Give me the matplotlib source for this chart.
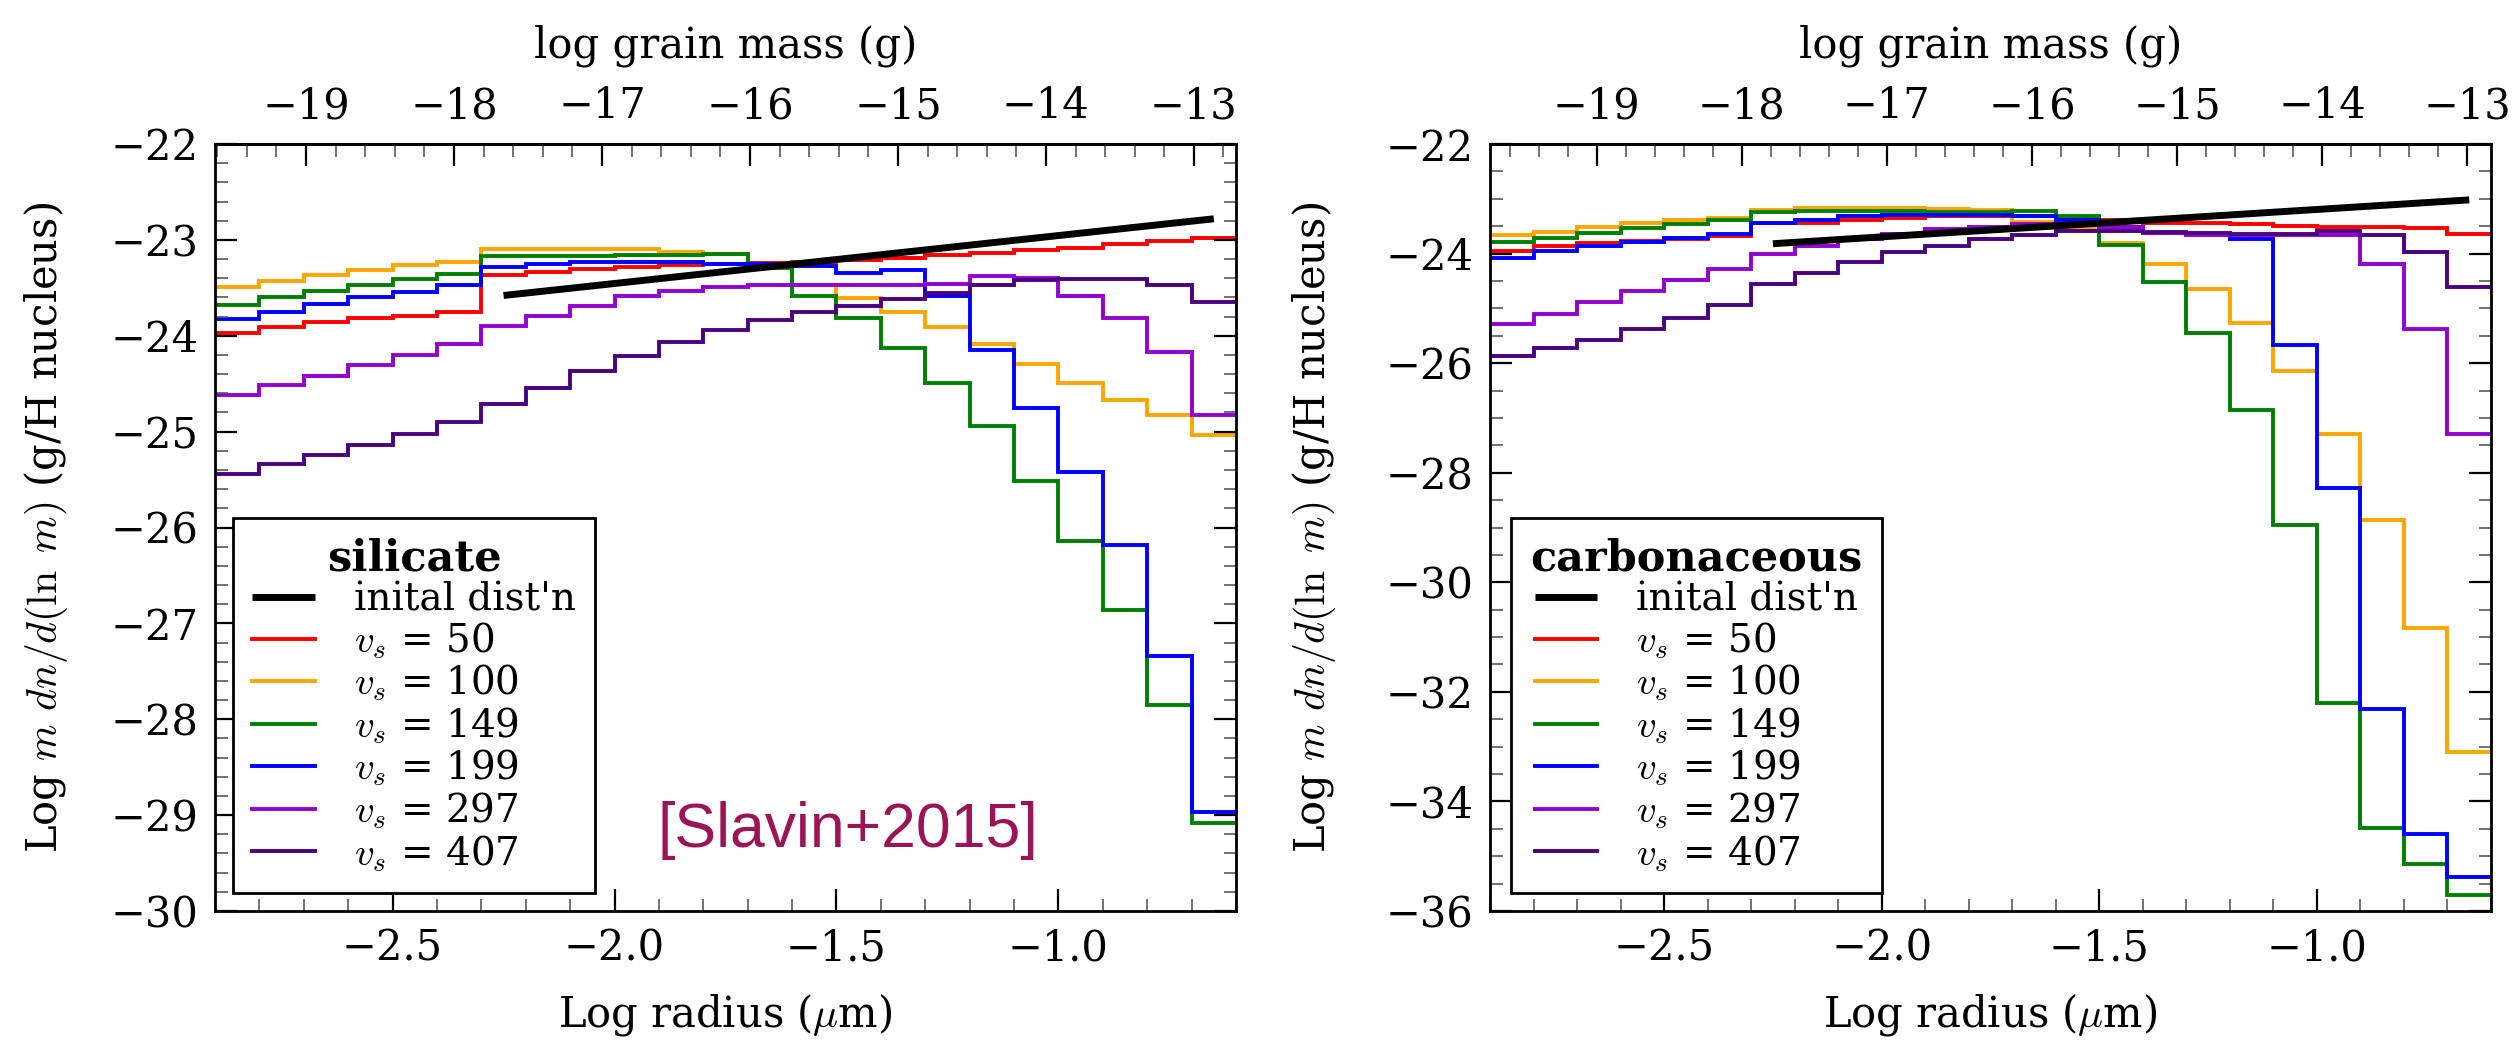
import numpy as np
import matplotlib
matplotlib.use('Agg')
import matplotlib.pyplot as plt
from matplotlib.ticker import MultipleLocator

plt.rcParams['font.family'] = ['DejaVu Serif']
plt.rcParams['mathtext.fontset'] = 'cm'

# ---------------- data ----------------
# log radius bin edges (micron)
log_a_edges = np.round(np.arange(-2.9, -0.55, 0.1), 2)
# initial distribution at bin centres
log_a_init = np.round(np.arange(-2.25, -0.6, 0.1), 2)
sil_init = [-23.58, -23.53, -23.48, -23.43, -23.38, -23.33, -23.28, -23.23, -23.18,
            -23.13, -23.08, -23.03, -22.98, -22.93, -22.88, -22.83, -22.78]
carb_init = [-23.82, -23.77, -23.72, -23.67, -23.62, -23.57, -23.52, -23.47, -23.42,
             -23.37, -23.32, -23.27, -23.22, -23.17, -23.12, -23.07, -23.02]

shock_speeds = [50, 100, 149, 199, 297, 407]

sil_50 = [-23.97, -23.91, -23.86, -23.82, -23.79, -23.75, -23.37, -23.33, -23.30, -23.28, -23.26, -23.25,
          -23.24, -23.23, -23.21, -23.19, -23.16, -23.14, -23.11, -23.08, -23.04, -23.01, -22.98]
sil_100 = [-23.49, -23.43, -23.37, -23.31, -23.26, -23.23, -23.09, -23.09, -23.09, -23.10, -23.13, -23.15,
           -23.27, -23.47, -23.61, -23.75, -23.91, -24.09, -24.29, -24.49, -24.67, -24.83, -25.04]
sil_149 = [-23.68, -23.60, -23.53, -23.47, -23.41, -23.36, -23.17, -23.17, -23.17, -23.16, -23.16, -23.15,
           -23.29, -23.59, -23.81, -24.13, -24.49, -24.94, -25.52, -26.14, -26.86, -27.85, -29.08]
sil_199 = [-23.83, -23.75, -23.67, -23.60, -23.54, -23.47, -23.28, -23.25, -23.23, -23.23, -23.23, -23.25,
           -23.25, -23.27, -23.35, -23.31, -23.59, -24.15, -24.75, -25.42, -26.18, -27.34, -28.97]
sil_297 = [-24.62, -24.51, -24.42, -24.30, -24.20, -24.09, -23.90, -23.79, -23.69, -23.59, -23.53, -23.49,
           -23.47, -23.47, -23.47, -23.47, -23.46, -23.38, -23.40, -23.59, -23.81, -24.17, -24.83]
sil_407 = [-25.44, -25.34, -25.24, -25.14, -25.02, -24.90, -24.71, -24.54, -24.37, -24.21, -24.06, -23.94,
           -23.84, -23.75, -23.69, -23.62, -23.55, -23.47, -23.42, -23.41, -23.41, -23.47, -23.65]

carb_50 = [-23.96, -23.87, -23.81, -23.77, -23.73, -23.68, -23.45, -23.44, -23.38, -23.35, -23.31, -23.31,
           -23.32, -23.35, -23.39, -23.44, -23.45, -23.46, -23.49, -23.51, -23.52, -23.53, -23.65]
carb_100 = [-23.67, -23.60, -23.52, -23.45, -23.39, -23.35, -23.20, -23.17, -23.17, -23.17, -23.19, -23.20,
            -23.42, -23.56, -23.80, -24.19, -24.64, -25.26, -26.15, -27.30, -28.86, -30.84, -33.09]
carb_149 = [-23.79, -23.72, -23.63, -23.53, -23.46, -23.39, -23.24, -23.23, -23.23, -23.23, -23.24, -23.24,
            -23.22, -23.31, -23.84, -24.51, -25.45, -26.85, -28.95, -32.21, -34.49, -35.15, -35.70]
carb_199 = [-24.08, -23.95, -23.87, -23.79, -23.72, -23.64, -23.45, -23.38, -23.32, -23.30, -23.30, -23.30,
            -23.31, -23.38, -23.52, -23.63, -23.66, -23.74, -25.66, -28.28, -32.32, -34.60, -35.38]
carb_297 = [-25.29, -25.10, -24.89, -24.69, -24.49, -24.29, -24.01, -23.86, -23.74, -23.65, -23.56, -23.51,
            -23.46, -23.46, -23.52, -23.63, -23.66, -23.66, -23.66, -23.66, -24.19, -25.38, -27.30]
carb_407 = [-25.87, -25.73, -25.57, -25.38, -25.17, -24.94, -24.56, -24.35, -24.15, -23.98, -23.86, -23.74,
            -23.66, -23.59, -23.59, -23.60, -23.63, -23.65, -23.65, -23.59, -23.66, -23.98, -24.61]

sil_series = [sil_50, sil_100, sil_149, sil_199, sil_297, sil_407]
carb_series = [carb_50, carb_100, carb_149, carb_199, carb_297, carb_407]

# grain material densities (g/cm^3) for mass axis
rho_sil = 2.9
rho_carb = 2.2

series_colors = ['#ff0000', '#ffa500', '#008000', '#0000ff', '#9400d3', '#4b0082']

# ---------------- figure ----------------
fig = plt.figure(figsize=(25.15, 10.41), dpi=100)
W, H = 2515, 1041
ax1 = fig.add_axes([215 / W, 1 - 911 / H, (1236 - 215) / W, (911 - 144) / H])
ax2 = fig.add_axes([1490 / W, 1 - 911 / H, (2491 - 1490) / W, (911 - 144) / H])

FS = 30
panels = [
    (ax1, sil_init, sil_series, 'silicate', rho_sil, (-30, -22), 1, 0.2, -0.142, 0.0176),
    (ax2, carb_init, carb_series, 'carbonaceous', rho_carb, (-36, -22), 2, 0.5, -0.152, 0.021),
]

for ax, init, series, name, rho, ylim, ymaj, ymin, ylab_x, leg_x in panels:
    ax.plot(log_a_init, init, color='black', lw=5, label="inital dist'n", solid_capstyle='butt')
    for vals, col, vs in zip(series, series_colors, shock_speeds):
        ax.stairs(vals, log_a_edges, baseline=None, color=col, lw=2.8, label=r'$v_s$ = %d' % vs)
    ax.set_xlim(-2.9, -0.6)
    ax.set_ylim(*ylim)
    ax.xaxis.set_major_locator(MultipleLocator(0.5))
    ax.xaxis.set_minor_locator(MultipleLocator(0.1))
    ax.yaxis.set_major_locator(MultipleLocator(ymaj))
    ax.yaxis.set_minor_locator(MultipleLocator(ymin))
    ax.tick_params(axis='both', which='both', direction='in', labelsize=FS,
                   left=True, right=True, bottom=True, top=False, colors='black')
    ax.tick_params(axis='both', which='major', length=16, width=1.6, pad=12)
    ax.tick_params(axis='both', which='minor', length=9, width=1.2, color='0.35')
    for sp in ax.spines.values():
        sp.set_linewidth(2.0)
    ax.set_xlabel(r'Log radius ($\mu$m)', fontsize=FS)
    ax.xaxis.set_label_coords(0.5, -0.106)
    ax.set_ylabel(r'Log $m$ $dn/d(\ln\ m)$ (g/H nucleus)', fontsize=FS)
    ax.yaxis.set_label_coords(ylab_x, 0.5)

    c = np.log10(4.0 * np.pi / 3.0 * rho) - 12.0
    sec = ax.secondary_xaxis('top', functions=(lambda x, c=c: 3 * x + c,
                                               lambda m, c=c: (m - c) / 3))
    sec.xaxis.set_major_locator(MultipleLocator(1))
    sec.xaxis.set_minor_locator(MultipleLocator(0.2))
    sec.tick_params(axis='x', which='both', direction='in', labelsize=FS)
    sec.tick_params(axis='x', which='major', length=16, width=1.6, pad=12)
    sec.tick_params(axis='x', which='minor', length=9, width=1.2, color='0.35')
    sec.spines['top'].set_linewidth(2.0)
    sec.set_xlabel('log grain mass (g)', fontsize=FS, labelpad=20)

    leg = ax.legend(loc='lower left', bbox_to_anchor=(leg_x, 0.0235), borderaxespad=0,
                    fontsize=28, title=name, title_fontproperties={'weight': 'bold', 'size': 31},
                    fancybox=False, framealpha=1, edgecolor='black', handlelength=1.6,
                    handletextpad=1.0, labelspacing=0.05, borderpad=0.5)
    leg.get_frame().set_linewidth(2.0)

fig.text(848 / W, 1 - 831 / H, '[Slavin+2015]', color='#9c1356', fontsize=45,
         family=['Liberation Sans', 'DejaVu Sans'], ha='center', va='center')

fig.savefig('out.png', dpi=100)
